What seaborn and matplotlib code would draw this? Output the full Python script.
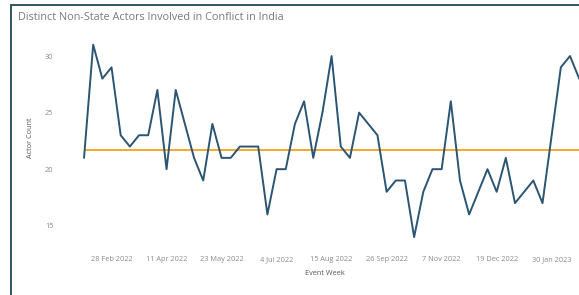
import numpy as np
import pandas as pd
import seaborn as sns
import matplotlib
matplotlib.use("Agg")
import matplotlib.pyplot as plt

# weekly distinct actor counts
actor_counts = [21, 31, 28, 29, 23, 22, 23, 23, 27, 20,
                27, 24, 21, 19, 24, 21, 21, 22, 22, 22,
                16, 20, 20, 24, 26, 21, 25, 30, 22, 21,
                25, 24, 23, 18, 19, 19, 14, 18, 20, 20,
                26, 19, 16, 18, 20, 18, 21, 17, 18, 19,
                17, 23, 29, 30, 28]
first_week = "2022-02-07"
avg_count = 21.7

tick_dates = ["2022-02-28", "2022-04-11", "2022-05-23", "2022-07-04", "2022-08-15",
              "2022-09-26", "2022-11-07", "2022-12-19", "2023-01-30"]
tick_labels = ["28 Feb 2022", "11 Apr 2022", "23 May 2022", "4 Jul 2022", "15 Aug 2022",
               "26 Sep 2022", "7 Nov 2022", "19 Dec 2022", "30 Jan 2023"]
y_ticks = [15, 20, 25, 30]

sns.set_theme(style="white")
plt.rcParams['font.family'] = ['Open Sans', 'DejaVu Sans']

df = pd.DataFrame({
    'week': pd.date_range(first_week, periods=len(actor_counts), freq='W-MON'),
    'count': actor_counts,
})

fig = plt.figure(figsize=(5.79, 2.95), dpi=100)
ax = fig.add_axes([70 / 579, 50 / 295, 509 / 579, 215 / 295])

sns.lineplot(data=df, x='week', y='count', ax=ax, color='#2b5572', linewidth=1.4, zorder=3)
start = pd.Timestamp(first_week)
ax.hlines(avg_count, df['week'].min(), df['week'].max() + pd.Timedelta(weeks=4),
          color='#f2a21e', linewidth=1.3, zorder=2)

ax.set_xlim(start - pd.Timedelta(days=10.7), start + pd.Timedelta(weeks=53.98))
ax.set_ylim(13.3, 32.3)

ax.set_xticks(pd.to_datetime(tick_dates))
ax.set_xticklabels(tick_labels)
ax.set_yticks(y_ticks)
ax.set_yticklabels([str(v) for v in y_ticks])
ax.tick_params(axis='both', labelsize=5.3, colors='#8a8a8a', length=0)
ax.tick_params(axis='y', pad=12)
ax.tick_params(axis='x', pad=8)

ax.set_xlabel('Event Week', fontsize=5.2, color='#555555', labelpad=5)
ax.set_ylabel('Actor Count', fontsize=5.2, color='#555555', labelpad=8)
for s in ax.spines.values():
    s.set_visible(False)

fig.text(18 / 579, 1 - 18 / 295, 'Distinct Non-State Actors Involved in Conflict in India',
         fontsize=7.8, color='#7a7a7a', va='center', ha='left')

# dashboard frame (left and top edges visible)
frame = plt.Rectangle((11 / 579, -0.1), 2.0, 1 - 5 / 295 + 0.1, transform=fig.transFigure,
                      fill=False, edgecolor='#1d4858', linewidth=1.3)
fig.add_artist(frame)

fig.savefig('out.png', dpi=100)
